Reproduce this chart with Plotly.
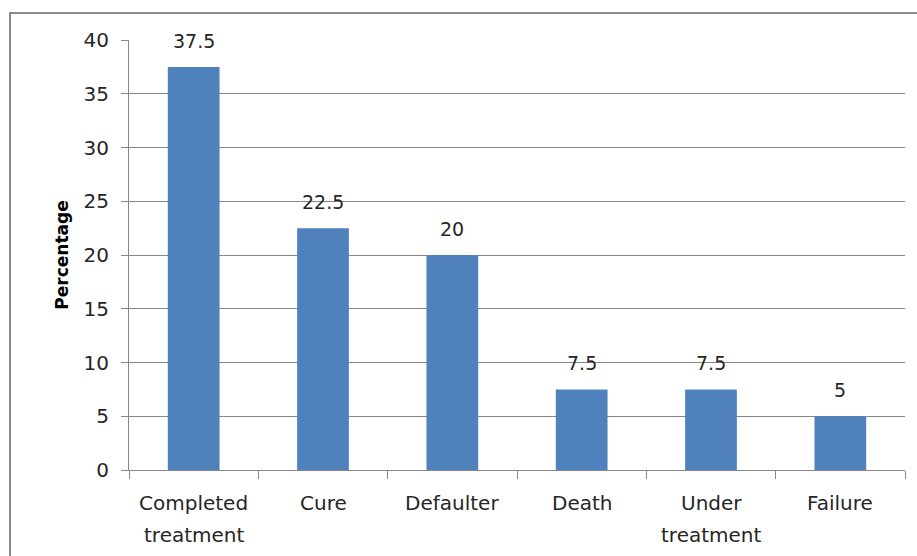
import plotly.graph_objects as go

# Treatment outcome categories and their share (%)
categories = ["Completed treatment", "Cure", "Defaulter", "Death", "Under treatment", "Failure"]
tick_lines = [["Completed", "treatment"], ["Cure"], ["Defaulter"], ["Death"], ["Under", "treatment"], ["Failure"]]
percentages = [37.5, 22.5, 20, 7.5, 7.5, 5]
y_ticks = [0, 5, 10, 15, 20, 25, 30, 35, 40]

FONT = "DejaVu Sans"
GRID = "#878787"
TEXT = "#262626"

W, H = 917, 556
ML, MR, MT, MB = 129, 12, 40, 86
PW, PH = W - ML - MR, H - MT - MB

fig = go.Figure(
    go.Bar(
        x=categories,
        y=percentages,
        marker=dict(color="#4F81BD", line=dict(width=0)),
        width=0.4,
        hoverinfo="x+y",
    )
)

annotations = []
# value labels above each bar
for cat, val in zip(categories, percentages):
    annotations.append(dict(
        x=cat, y=val, xref="x", yref="y", text=f"{val:g}", showarrow=False,
        yanchor="middle", yshift=26, font=dict(family=FONT, size=19, color=TEXT),
    ))
# category labels, one annotation per line for wide line spacing
for cat, lines in zip(categories, tick_lines):
    for i, line in enumerate(lines):
        py = 503 + i * 32
        annotations.append(dict(
            x=cat, y=(H - MB - py) / PH, xref="x", yref="paper", text=line,
            showarrow=False, yanchor="middle",
            font=dict(family=FONT, size=20, color=TEXT),
        ))

fig.update_layout(
    width=W, height=H,
    margin=dict(l=ML, r=MR, t=MT, b=MB),
    paper_bgcolor="white", plot_bgcolor="white",
    showlegend=False,
    annotations=annotations,
    shapes=[dict(
        type="rect", xref="paper", yref="paper", layer="below",
        x0=(10 - ML) / PW, x1=1.05,
        y0=-0.3, y1=(H - MB - 13) / PH,
        line=dict(color="#8c8c8c", width=2), fillcolor="rgba(0,0,0,0)",
    )],
    xaxis=dict(
        type="category", showticklabels=False,
        ticks="outside", tickson="boundaries", ticklen=8, tickcolor=GRID,
        showline=True, linecolor=GRID, linewidth=1, showgrid=False,
        range=[-0.5, 5.5],
    ),
    yaxis=dict(
        range=[0, 40], tickvals=y_ticks, ticks="outside", ticklen=7, tickcolor=GRID,
        showline=True, linecolor=GRID, linewidth=1,
        showgrid=True, gridcolor=GRID, gridwidth=1, zeroline=False,
        tickfont=dict(family=FONT, size=20, color=TEXT), ticklabelstandoff=8,
        title=dict(text="<b>Percentage</b>", font=dict(family=FONT, size=17, color="black"), standoff=10),
    ),
)

fig.write_html("out.html")
